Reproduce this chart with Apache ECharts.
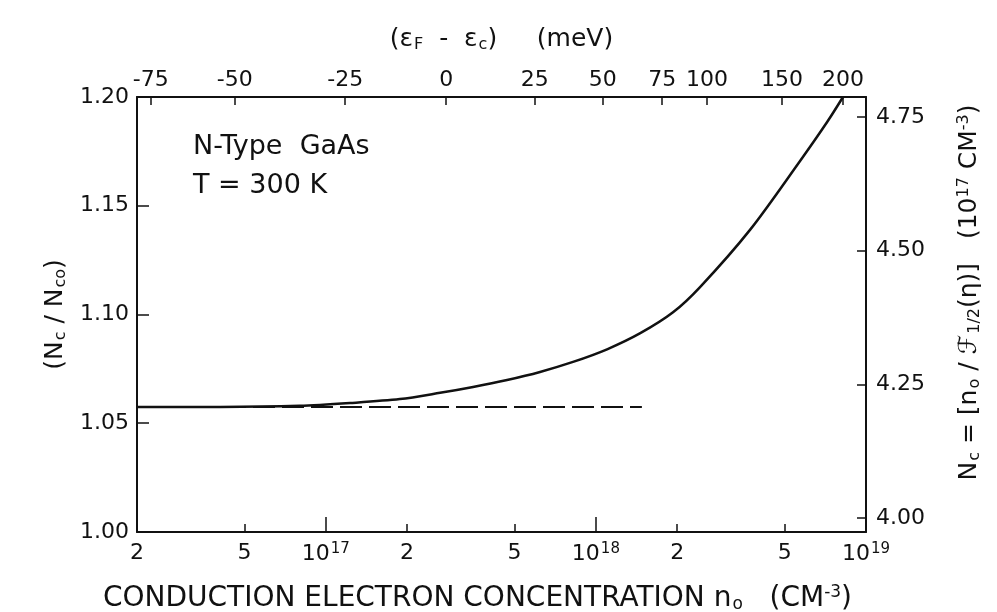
<!DOCTYPE html>
<html>
<head>
<meta charset="utf-8">
<script src="https://cdn.jsdelivr.net/npm/echarts@6/dist/echarts.min.js"></script>
<style>
html,body{margin:0;padding:0;background:#fff;}
#chart{width:997px;height:612px;}
</style>
</head>
<body>
<div id="chart"></div>
<script>
// 导带电子浓度 n0 (cm^-3)
var curveN=[2e16,4.06e16,8.0e16,1.23e17,1.88e17,2.65e17,3.51e17,4.69e17,6.21e17,8.23e17,1.10e18,1.46e18,1.93e18,2.43e18,3.72e18,5.70e18,7.18e18,8.22e18];
// Nc/Nco
var curveRatio=[1.0575,1.0575,1.0580,1.0593,1.0611,1.0640,1.0667,1.0699,1.0736,1.0782,1.0840,1.0914,1.1010,1.1126,1.1389,1.1706,1.1885,1.2000];
// 非简并极限（虚线）
var dashN=[2e16,1.48e18];
var dashRatio=[1.0575,1.0575];
// 底部刻度
var bottomTicks=[2e16,5e16,1e17,2e17,5e17,1e18,2e18,5e18,1e19];
var decadeTicks=[1e17,1e18,1e19];
// 顶部刻度 (EF-Ec) meV 及其对应的 n0
var topMeV=[-75,-50,-25,0,25,50,75,100,150,200];
var topN=[2.25e16,4.6e16,1.18e17,2.79e17,5.94e17,1.06e18,1.76e18,2.58e18,4.89e18,8.22e18];
// 右纵轴刻度 (10^17 cm^-3)
var rightTicks=[4.00,4.25,4.50,4.75];

var font="DejaVu Sans";
var black="#111";

function bottomFormatter(v){
    var e=Math.floor(Math.log10(v)+1e-6);
    var m=Math.round(v/Math.pow(10,e));
    if(m===1){
        return "{b|10}{sup|"+e+"}";
    }
    return "{b|"+m+"}";
}
function topFormatter(v){
    var best=0,d=1e9;
    for(var i=0;i<topN.length;i++){
        var dd=Math.abs(Math.log10(topN[i])-Math.log10(v));
        if(dd<d){d=dd;best=i;}
    }
    return String(topMeV[best]);
}

var tableCurve=[];
for(var i=0;i<curveN.length;i++){
    tableCurve.push([curveN[i],curveRatio[i]]);
}
var tableDash=[];
for(var i=0;i<dashN.length;i++){
    tableDash.push([dashN[i],dashRatio[i]]);
}

var myChart=echarts.init(document.getElementById("chart"));
var option={
    animation:false,
    backgroundColor:"#fff",
    textStyle:{fontFamily:font,color:black},
    grid:{left:137,right:131,top:97,bottom:80,containLabel:false,outerBoundsMode:"none"},
    graphic:[
        {type:"text",left:193,top:133,style:{text:"N-Type  GaAs",font:"27px "+font,fill:black}},
        {type:"text",left:193,top:172,style:{text:"T = 300 K",font:"27px "+font,fill:black}}
    ],
    xAxis:[
        {
            type:"log",
            min:2e16,
            max:1e19,
            position:"bottom",
            axisLine:{lineStyle:{color:black,width:2}},
            axisTick:{inside:true,length:8,lineStyle:{color:black,width:1.5},customValues:bottomTicks},
            splitLine:{show:false},
            axisLabel:{
                margin:10,
                color:black,
                customValues:bottomTicks,
                formatter:bottomFormatter,
                rich:{
                    b:{fontSize:22,fontFamily:font,color:black},
                    sup:{fontSize:15,fontFamily:font,color:black,verticalAlign:"bottom",padding:[0,0,10,1]}
                }
            },
            name:"CONDUCTION ELECTRON CONCENTRATION n{sub|o}   (CM{sup|-3})",
            nameLocation:"middle",
            nameGap:52,
            nameTextStyle:{
                fontSize:28,
                fontFamily:font,
                color:black,
                padding:[0,48,0,0],
                rich:{
                    sub:{fontSize:17,fontFamily:font,color:black,verticalAlign:"top",padding:[12,0,0,1]},
                    sup:{fontSize:17,fontFamily:font,color:black,verticalAlign:"bottom",padding:[0,0,12,0]}
                }
            }
        },
        {
            type:"log",
            min:2e16,
            max:1e19,
            position:"top",
            axisLine:{lineStyle:{color:black,width:2}},
            axisTick:{inside:true,length:8,lineStyle:{color:black,width:1.5},customValues:topN},
            splitLine:{show:false},
            axisLabel:{
                margin:6,
                color:black,
                fontSize:22,
                fontFamily:font,
                customValues:topN,
                formatter:topFormatter
            },
            name:"(ε{sub|F}  -  ε{sub|c})     (meV)",
            nameLocation:"middle",
            nameGap:44,
            nameTextStyle:{
                fontSize:25,
                fontFamily:font,
                color:black,
                rich:{
                    sub:{fontSize:16,fontFamily:font,color:black,verticalAlign:"top",padding:[11,0,0,1]}
                }
            }
        },
        {
            // 十倍刻度（较长的刻度线）
            type:"log",
            min:2e16,
            max:1e19,
            position:"bottom",
            axisLine:{show:false},
            axisTick:{inside:true,length:15,lineStyle:{color:black,width:1.5},customValues:decadeTicks},
            axisLabel:{show:false},
            splitLine:{show:false}
        }
    ],
    yAxis:[
        {
            type:"value",
            min:1.0,
            max:1.2,
            interval:0.05,
            position:"left",
            axisLine:{show:true,lineStyle:{color:black,width:2}},
            axisTick:{show:true,inside:true,length:12,lineStyle:{color:black,width:1.5}},
            splitLine:{show:false},
            axisLabel:{
                margin:8,
                color:black,
                fontSize:22,
                fontFamily:font,
                formatter:function(v){return v.toFixed(2);}
            },
            name:"(N{sub|c} / N{sub|co})",
            nameLocation:"middle",
            nameRotate:90,
            nameGap:68,
            nameTextStyle:{
                fontSize:25,
                fontFamily:font,
                color:black,
                rich:{
                    sub:{fontSize:16,fontFamily:font,color:black,verticalAlign:"top",padding:[11,0,0,1]}
                }
            }
        },
        {
            type:"value",
            min:3.974,
            max:4.787,
            position:"right",
            axisLine:{show:true,lineStyle:{color:black,width:2}},
            axisTick:{show:true,inside:true,length:9,lineStyle:{color:black,width:1.5},customValues:rightTicks},
            splitLine:{show:false},
            axisLabel:{
                margin:10,
                color:black,
                fontSize:22,
                fontFamily:font,
                customValues:rightTicks,
                formatter:function(v){return v.toFixed(2);}
            },
            name:"N{sub|c} = [n{sub|o} / ℱ{sub|1/2}(η)]   (10{sup|17} CM{sup|-3})",
            nameLocation:"middle",
            nameRotate:90,
            nameGap:90,
            nameTextStyle:{
                fontSize:25,
                fontFamily:font,
                color:black,
                padding:[0,0,0,44],
                rich:{
                    sub:{fontSize:16,fontFamily:font,color:black,verticalAlign:"top",padding:[11,0,0,1]},
                    sup:{fontSize:16,fontFamily:font,color:black,verticalAlign:"bottom",padding:[0,0,11,0]}
                }
            }
        }
    ],
    series:[
        {
            name:"Nc/Nco",
            type:"line",
            xAxisIndex:0,
            yAxisIndex:0,
            data:tableCurve,
            smooth:0.3,
            showSymbol:false,
            symbol:"none",
            lineStyle:{color:black,width:2.5}
        },
        {
            name:"nondegenerate",
            type:"line",
            xAxisIndex:0,
            yAxisIndex:0,
            data:tableDash,
            showSymbol:false,
            symbol:"none",
            lineStyle:{color:black,width:2,type:[22,7]}
        }
    ]
};
myChart.setOption(option,true);
</script>
</body>
</html>
